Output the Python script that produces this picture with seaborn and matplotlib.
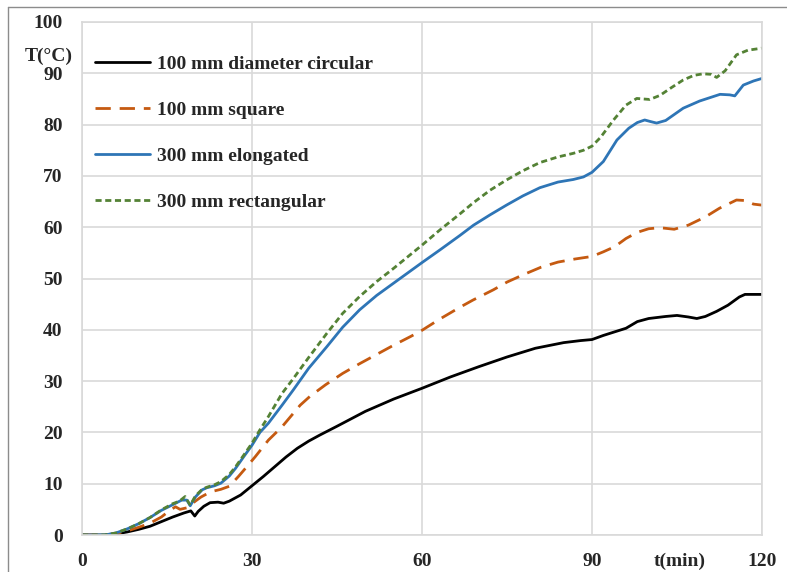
import matplotlib
matplotlib.use("Agg")
import matplotlib.pyplot as plt
from matplotlib.lines import Line2D
import seaborn as sns

# Temperature rise over time, four sample geometries
t_circ = [0, 4, 6, 8, 10, 12, 14, 16, 18, 19.2, 19.9, 20.5, 21.5, 22.6, 24, 25, 26, 28, 30,
          32, 34, 36, 38, 40, 42, 45, 50, 55, 60, 65, 70, 75, 80, 85, 88, 90, 92, 94, 96, 98,
          100, 103, 105, 107, 108.5, 110, 112, 114, 116, 117, 120]
temp_circ = [0, 0, 0.2, 0.6, 1.1, 1.7, 2.6, 3.5, 4.3, 4.7, 3.7, 4.6, 5.6, 6.3, 6.4, 6.2, 6.6, 7.8, 9.6,
             11.4, 13.3, 15.2, 16.9, 18.3, 19.5, 21.2, 24.1, 26.5, 28.6, 30.8, 32.8, 34.7, 36.4, 37.5, 37.9, 38.1, 38.9, 39.6, 40.3, 41.6,
             42.2, 42.6, 42.8, 42.5, 42.2, 42.6, 43.6, 44.8, 46.4, 46.9, 46.9]

t_sq = [0, 4, 6, 8, 10, 12, 14, 15.5, 16.5, 17.3, 18.5, 20, 21, 22, 23, 24.5, 26, 27.6, 29, 30.6,
        32.9, 35.3, 38.5, 40.2, 43, 46, 49, 52, 55, 58, 60, 63, 66.7, 69, 72.6, 75, 78, 81, 84, 87,
        90, 92, 94, 96, 98, 100, 102, 104.5, 107, 110, 112.5, 115.5, 117, 118.5, 120]
temp_sq = [0, 0, 0.3, 0.8, 1.5, 2.3, 3.5, 4.8, 5.5, 5.0, 5.3, 6.6, 7.4, 8.0, 8.5, 8.9, 9.5, 11.4, 13.2, 15.3,
           18.5, 21.1, 25.3, 27.0, 29.3, 31.5, 33.4, 35.2, 37.0, 38.7, 39.9, 42.0, 44.4, 45.8, 47.8, 49.3, 50.8, 52.2, 53.2, 53.8,
           54.3, 55.2, 56.2, 57.8, 59.0, 59.7, 59.9, 59.6, 60.4, 62.0, 63.7, 65.3, 65.2, 64.5, 64.3]

t_elong = [0, 4, 6, 8, 10, 12, 14, 16, 17.6, 18.5, 19.1, 20, 21.2, 22, 23.4, 24.5, 26, 27.1, 28.5, 30,
           31.4, 32.9, 35.3, 37.3, 40, 43.2, 46, 49, 52, 55, 60, 63.2, 66.7, 69.1, 72, 74.9, 77.8, 80.8,
           84, 86.7, 88.5, 90, 92, 94.4, 96.5, 98, 99.3, 100.3, 101.4, 103, 106.1, 109, 112.6, 114.3,
           115.2, 116.7, 118.5, 120]
temp_elong = [0, 0, 0.4, 1.2, 2.2, 3.4, 4.8, 5.9, 6.8, 6.8, 5.7, 7.4, 8.8, 9.2, 9.6, 10.1, 11.5, 13.0, 15.2, 17.5,
              20.0, 21.8, 25.3, 28.3, 32.5, 36.7, 40.5, 43.9, 46.7, 49.1, 53.1, 55.6, 58.4, 60.4, 62.4, 64.3, 66.1, 67.7,
              68.8, 69.3, 69.8, 70.7, 72.8, 77.0, 79.3, 80.4, 80.9, 80.6, 80.3, 80.8, 83.2, 84.6, 85.9, 85.8,
              85.6, 87.7, 88.5, 89.0]

t_rect = [0, 4, 6, 8, 10, 12, 14, 16, 17.2, 18.2, 19.1, 20, 21.2, 22, 23.4, 24.5, 26, 27.1, 28.5, 30,
          31.4, 32.9, 35.3, 37.3, 40, 43.2, 46, 49, 52, 54.9, 60, 63.2, 66.7, 69.1, 72, 74.9, 77.8, 80.8,
          84, 86.7, 88.5, 90, 91.5, 93.8, 96, 97.9, 99, 100.2, 102, 104, 106.1, 108, 109.6, 111, 112,
          113.5, 115.5, 117.5, 120]
temp_rect = [0, 0, 0.4, 1.2, 2.2, 3.4, 4.9, 6.1, 6.6, 7.5, 5.8, 7.6, 8.9, 9.3, 9.8, 10.4, 11.8, 13.3, 15.5, 17.9,
             20.5, 23.1, 27.6, 30.5, 34.6, 39.3, 43.2, 46.5, 49.4, 51.9, 56.5, 59.5, 62.6, 64.8, 67.2, 69.2, 71.0, 72.6,
             73.7, 74.4, 75.0, 75.8, 77.5, 80.9, 83.8, 85.1, 85.0, 84.9, 85.7, 87.2, 88.7, 89.6, 89.9, 89.8, 89.2,
             90.5, 93.6, 94.5, 94.9]

labels = ["100 mm diameter circular", "100 mm square", "300 mm elongated", "300 mm rectangular"]
x_ticks = [0, 30, 60, 90, 120]
y_ticks = [0, 10, 20, 30, 40, 50, 60, 70, 80, 90, 100]

sns.set_theme(style="white")
plt.rcParams["font.family"] = ["Liberation Serif", "DejaVu Serif"]
plt.rcParams["font.weight"] = "bold"

W, H = 787, 572
fig = plt.figure(figsize=(W / 100, H / 100), dpi=100)
fig.patch.set_facecolor("white")
ax = fig.add_axes([82 / W, 1 - 535 / H, (762 - 82) / W, (535 - 22) / H])

series = [
    (t_circ, temp_circ, "#000000", "-"),
    (t_sq, temp_sq, "#C55A11", (0, (5.5, 3.2))),
    (t_elong, temp_elong, "#2E75B6", "-"),
    (t_rect, temp_rect, "#548235", (0, (2.2, 1.3))),
]
for label, (t, y, c, ls) in zip(labels, series):
    sns.lineplot(x=t, y=y, ax=ax, color=c, lw=2.0, label=label, estimator=None)
    ax.get_lines()[-1].set_linestyle(ls)

ax.set_xlim(0, 120)
ax.set_ylim(0, 100)
ax.set_xticks(x_ticks)
ax.set_yticks(y_ticks)
ax.grid(True, color="#d9d9d9", lw=1.2)
for s in ax.spines.values():
    s.set_color("#d9d9d9")
    s.set_linewidth(1.2)
ax.tick_params(axis="both", length=0, labelsize=14)
ax.tick_params(axis="y", pad=14)
ax.tick_params(axis="x", pad=13)
for lab in ax.get_xticklabels() + ax.get_yticklabels():
    lab.set_fontweight("bold")
ax.set_xlabel("")
ax.set_ylabel("")

fig.text(73 / W, 1 - 56 / H, "T(°C)", ha="right", va="center", fontsize=14, fontweight="bold")
fig.text(680 / W, 1 - 561 / H, "t(min)", ha="center", va="center", fontsize=14, fontweight="bold")

ax.legend(loc="upper left", bbox_to_anchor=(95 / W, 1 - 55 / H), bbox_transform=fig.transFigure,
          frameon=False, borderpad=0, borderaxespad=0, handlelength=2.85, handletextpad=0.35,
          labelspacing=1.47, prop={"size": 14, "weight": "bold"})

# thin frame around the figure
fig.add_artist(Line2D([8 / W, 8 / W], [0, 1 - 7 / H], transform=fig.transFigure, color="#8c8c8c", lw=1))
fig.add_artist(Line2D([8 / W, 1], [1 - 7 / H, 1 - 7 / H], transform=fig.transFigure, color="#8c8c8c", lw=1))

fig.savefig("out.png", dpi=100)
